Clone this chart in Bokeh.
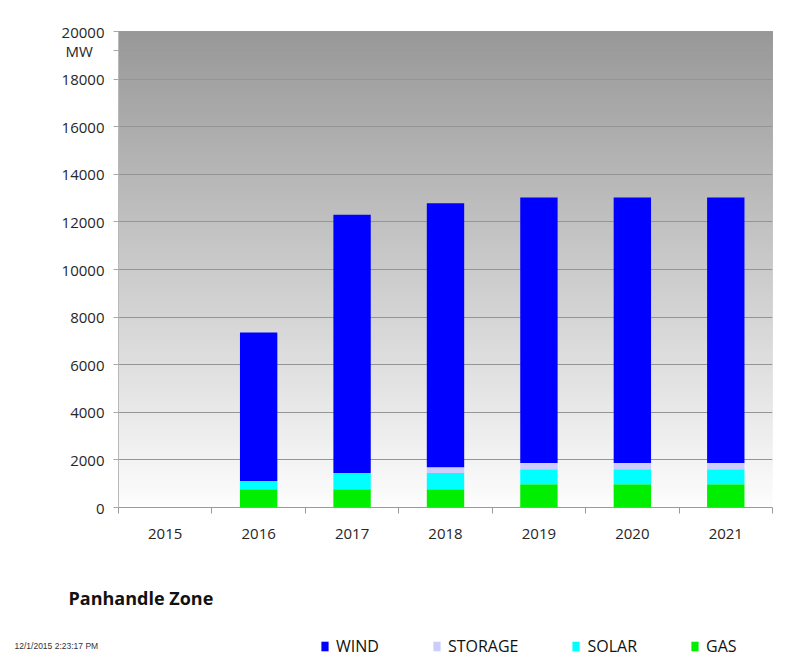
from bokeh.plotting import figure
from bokeh.layouts import column
from bokeh.models import (Range1d, FixedTicker, Legend, LegendItem, Label,
                          BoxAnnotation, ColumnDataSource)
from bokeh.embed import file_html
from bokeh.resources import INLINE

# ---- data ----
years = [2015, 2016, 2017, 2018, 2019, 2020, 2021]
gas = [0, 765, 765, 765, 975, 975, 975]
solar = [0, 345, 680, 680, 635, 635, 635]
storage = [0, 0, 0, 250, 265, 265, 265]
wind = [0, 6240, 10855, 11085, 11155, 11155, 11155]
series = ["GAS", "SOLAR", "STORAGE", "WIND"]
legend_order = ["WIND", "STORAGE", "SOLAR", "GAS"]
colors = ["#00ee00", "#00ffff", "#ccccff", "#0000ff"]
y_ticks = list(range(0, 20001, 2000))
unit_tick = 19200          # position of the "MW" unit caption under the top tick
title_text = "Panhandle Zone"
unit_text = "MW"
stamp_text = "12/1/2015 2:23:17 PM"

source = ColumnDataSource(dict(year=years, GAS=gas, SOLAR=solar,
                               STORAGE=storage, WIND=wind))

W = 786
p = figure(width=W, height=560, output_backend="svg", toolbar_location=None,
           x_range=Range1d(years[0] - 0.5, years[-1] + 0.5),
           y_range=Range1d(0, 20000),
           min_border_left=118, min_border_right=14,
           min_border_top=31, min_border_bottom=53)
p.frame_align = False
p.outline_line_color = None
p.background_fill_color = "white"
p.border_fill_color = "white"

# gradient background (dark gray at top -> near white at bottom)
n = 120
for i in range(n):
    frac = (i + 0.5) / n
    g = int(round(253 - (253 - 152) * frac))
    p.add_layout(BoxAnnotation(bottom=20000 * i / n, fill_color=(g, g, g),
                               fill_alpha=1.0, line_color=None, level="image"))

renderers = p.vbar_stack(series, x="year", width=0.4, color=colors,
                         line_color=None, source=source)

# grid
p.xgrid.visible = False
p.ygrid.ticker = FixedTicker(ticks=y_ticks)
p.ygrid.grid_line_color = "#959595"
p.ygrid.grid_line_width = 1.2

# y axis (with the "MW" unit caption as an extra label under 20000)
p.yaxis.ticker = FixedTicker(ticks=y_ticks + [unit_tick])
p.yaxis.major_label_overrides = {unit_tick: unit_text + "\u00a0\u00a0\u00a0"}
p.yaxis.major_tick_in = 0
p.yaxis.major_tick_out = 5
p.yaxis.minor_tick_line_color = None
p.yaxis.major_tick_line_color = "#a8a8a8"
p.yaxis.axis_line_color = "#b8b8b8"
p.yaxis.major_label_text_font = "Open Sans"
p.yaxis.major_label_text_font_size = "15px"
p.yaxis.major_label_text_color = "#262626"
p.yaxis.major_label_standoff = 9

# x axis
p.xaxis.ticker = FixedTicker(ticks=years,
                             minor_ticks=[y - 0.5 for y in years] + [years[-1] + 0.5])
p.xaxis.major_tick_in = 0
p.xaxis.major_tick_out = 0
p.xaxis.minor_tick_in = 0
p.xaxis.minor_tick_out = 6
p.xaxis.minor_tick_line_color = "#9a9a9a"
p.xaxis.axis_line_color = "#9a9a9a"
p.xaxis.major_label_text_font = "Open Sans"
p.xaxis.major_label_text_font_size = "15px"
p.xaxis.major_label_text_color = "#262626"
p.xaxis.major_label_standoff = 15

# ---- bottom strip: zone title, time stamp, legend ----
p2 = figure(width=W, height=97, output_backend="svg", toolbar_location=None,
            x_range=Range1d(0, 1), y_range=Range1d(0, 1),
            x_axis_type=None, y_axis_type=None, min_border=0)
p2.frame_align = False
p2.outline_line_color = None
p2.grid.visible = False
p2.background_fill_color = "white"
p2.border_fill_color = "white"

# same stacked series, hidden here, only feed the legend glyphs
leg_renderers = p2.vbar_stack(series, x="year", width=0.4, color=colors,
                              line_color=None, source=source)
for r in leg_renderers:
    r.visible = False

p2.add_layout(Label(x=68, y=60, x_units="screen", y_units="screen", text=title_text,
                    text_font="Open Sans", text_font_size="18px", text_font_style="bold",
                    text_color="#111111", text_baseline="middle"))
p2.add_layout(Label(x=14, y=12, x_units="screen", y_units="screen", text=stamp_text,
                    text_font="Liberation Sans", text_font_size="8.5px",
                    text_color="#333333", text_baseline="middle"))

by_name = dict(zip(series, leg_renderers))
items = [LegendItem(label=s, renderers=[by_name[s]]) for s in legend_order]
legend = Legend(items=items, orientation="horizontal", location=(320, 0),
                spacing=53, padding=0, margin=0, glyph_width=9, glyph_height=12,
                label_standoff=7, label_text_font="Open Sans", label_text_font_size="16px",
                label_text_color="#111111", border_line_color=None,
                background_fill_alpha=0, inactive_fill_alpha=0,
                click_policy="none")
p2.add_layout(legend, "center")

layout = column(p, p2, spacing=0)
open("out.html", "w").write(file_html(layout, INLINE))
